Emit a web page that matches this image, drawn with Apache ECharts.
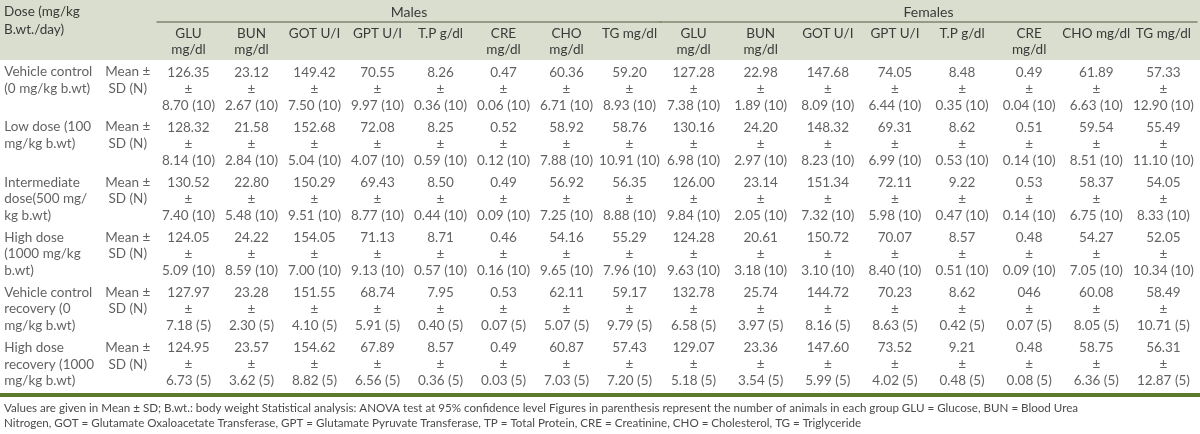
<!DOCTYPE html>
<html>
<head>
<meta charset="utf-8">
<script src="https://cdn.jsdelivr.net/npm/echarts@6/dist/echarts.min.js"></script>
<style>
  html, body { margin: 0; padding: 0; background: #fff; }
  #main { width: 1200px; height: 434px; }
</style>
</head>
<body>
<div id="main"></div>
<script>
// row labels (dose groups)
var doseGroups = [
  'Vehicle control\n(0 mg/kg b.wt)',
  'Low dose (100\nmg/kg b.wt)',
  'Intermediate\ndose(500 mg/\nkg b.wt)',
  'High dose\n(1000 mg/kg\nb.wt)',
  'Vehicle control\nrecovery (0\nmg/kg b.wt)',
  'High dose\nrecovery (1000\nmg/kg b.wt)'
];
var statLabel = 'Mean \u00b1\nSD (N)';
var groupN = [10, 10, 10, 10, 5, 5];

var maleHeaders = ['GLU\nmg/dl', 'BUN\nmg/dl', 'GOT U/I', 'GPT U/I', 'T.P g/dl', 'CRE\nmg/dl', 'CHO\nmg/dl', 'TG mg/dl'];
var femaleHeaders = ['GLU\nmg/dl', 'BUN\nmg/dl', 'GOT U/I', 'GPT U/I', 'T.P g/dl', 'CRE\nmg/dl', 'CHO mg/dl', 'TG mg/dl'];

// mean values, one array per dose group (GLU, BUN, GOT, GPT, T.P, CRE, CHO, TG)
var maleMean = [
  ['126.35', '23.12', '149.42', '70.55', '8.26', '0.47', '60.36', '59.20'],
  ['128.32', '21.58', '152.68', '72.08', '8.25', '0.52', '58.92', '58.76'],
  ['130.52', '22.80', '150.29', '69.43', '8.50', '0.49', '56.92', '56.35'],
  ['124.05', '24.22', '154.05', '71.13', '8.71', '0.46', '54.16', '55.29'],
  ['127.97', '23.28', '151.55', '68.74', '7.95', '0.53', '62.11', '59.17'],
  ['124.95', '23.57', '154.62', '67.89', '8.57', '0.49', '60.87', '57.43']
];
var maleSD = [
  ['8.70', '2.67', '7.50', '9.97', '0.36', '0.06', '6.71', '8.93'],
  ['8.14', '2.84', '5.04', '4.07', '0.59', '0.12', '7.88', '10.91'],
  ['7.40', '5.48', '9.51', '8.77', '0.44', '0.09', '7.25', '8.88'],
  ['5.09', '8.59', '7.00', '9.13', '0.57', '0.16', '9.65', '7.96'],
  ['7.18', '2.30', '4.10', '5.91', '0.40', '0.07', '5.07', '9.79'],
  ['6.73', '3.62', '8.82', '6.56', '0.36', '0.03', '7.03', '7.20']
];
var femaleMean = [
  ['127.28', '22.98', '147.68', '74.05', '8.48', '0.49', '61.89', '57.33'],
  ['130.16', '24.20', '148.32', '69.31', '8.62', '0.51', '59.54', '55.49'],
  ['126.00', '23.14', '151.34', '72.11', '9.22', '0.53', '58.37', '54.05'],
  ['124.28', '20.61', '150.72', '70.07', '8.57', '0.48', '54.27', '52.05'],
  ['132.78', '25.74', '144.72', '70.23', '8.62', '046', '60.08', '58.49'],
  ['129.07', '23.36', '147.60', '73.52', '9.21', '0.48', '58.75', '56.31']
];
var femaleSD = [
  ['7.38', '1.89', '8.09', '6.44', '0.35', '0.04', '6.63', '12.90'],
  ['6.98', '2.97', '8.23', '6.99', '0.53', '0.14', '8.51', '11.10'],
  ['9.84', '2.05', '7.32', '5.98', '0.47', '0.14', '6.75', '8.33'],
  ['9.63', '3.18', '3.10', '8.40', '0.51', '0.09', '7.05', '10.34'],
  ['6.58', '3.97', '8.16', '8.63', '0.42', '0.07', '8.05', '10.71'],
  ['5.18', '3.54', '5.99', '4.02', '0.48', '0.08', '6.36', '12.87']
];

var footnote1 = 'Values are given in Mean \u00b1 SD; B.wt.: body weight Statistical analysis: ANOVA test at 95% confidence level Figures in parenthesis represent the number of animals in each group GLU = Glucose, BUN = Blood Urea';
var footnote2 = 'Nitrogen, GOT = Glutamate Oxaloacetate Transferase, GPT = Glutamate Pyruvate Transferase, TP = Total Protein, CRE = Creatinine, CHO = Cholesterol, TG = Triglyceride';

var FONT = 'Lato, "Open Sans", sans-serif';
var TEXT = '#3a3a3a';

// build cell data: [col, row, text]
function cells(mean, sd) {
  var out = [];
  for (var r = 0; r < mean.length; r++) {
    for (var c = 0; c < mean[r].length; c++) {
      out.push([c, r, mean[r][c] + '\n\u00b1\n' + sd[r][c] + ' (' + groupN[r] + ')']);
    }
  }
  return out;
}
var doseRows = doseGroups.map(function (d, i) { return [0, i, d]; });
var statRows = doseGroups.map(function (d, i) { return [1, i, statLabel]; });

function textLabel(align, dx) {
  return {
    show: true,
    position: 'inside',
    formatter: function (p) { return p.value[2]; },
    color: TEXT,
    fontFamily: FONT,
    fontSize: 13.5,
    lineHeight: 16.5,
    align: align,
    verticalAlign: 'top',
    offset: [dx, -24]
  };
}
function textSeries(gridIdx, data, label) {
  return {
    type: 'scatter', xAxisIndex: gridIdx, yAxisIndex: gridIdx, symbolSize: 1, silent: true,
    itemStyle: { color: 'rgba(0,0,0,0)' },
    data: data, label: label
  };
}

function rowAxis(idx) {
  return {
    type: 'category', gridIndex: idx, inverse: true,
    data: doseGroups, show: false
  };
}
function headAxis(idx, headers, name) {
  return {
    type: 'category', gridIndex: idx, position: 'top', data: headers,
    name: name, nameLocation: 'middle', nameGap: 42,
    nameTextStyle: { color: TEXT, fontFamily: FONT, fontSize: 14 },
    axisLine: { show: false }, axisTick: { show: false },
    axisLabel: {
      interval: 0, margin: 35, verticalAlign: 'top', align: 'center',
      color: TEXT, fontFamily: FONT, fontSize: 13.5, lineHeight: 16
    }
  };
}
function ruleAxis(idx, headers) {
  return {
    type: 'category', gridIndex: idx, position: 'top', offset: 39, data: headers,
    axisLine: { show: true, lineStyle: { color: '#7d8670', width: 1.5 } },
    axisTick: { show: false }, axisLabel: { show: false }
  };
}

var chart = echarts.init(document.getElementById('main'), null, { renderer: 'canvas' });
chart.setOption({
  animation: false,
  textStyle: { fontFamily: FONT },
  graphic: [
    { type: 'rect', z: -10, shape: { x: 0, y: 0, width: 1200, height: 60 }, style: { fill: '#d9decf' } },
    { type: 'text', left: 4, top: 3, style: { text: 'Dose (mg/kg\nB.wt./day)', fill: TEXT, font: '13.5px ' + FONT, lineHeight: 18 } },
    { type: 'rect', shape: { x: 0, y: 393, width: 1200, height: 4 }, style: { fill: '#5b7a2c' } },
    { type: 'text', left: 4, top: 401, style: { text: footnote1 + '\n' + footnote2, fill: '#4a4a4a', font: '11.6px ' + FONT, lineHeight: 15 } }
  ],
  grid: [
    { left: 0, width: 157, top: 60, height: 331 },
    { left: 157, width: 504, top: 60, height: 331 },
    { left: 660, width: 537, top: 60, height: 331 }
  ],
  xAxis: [
    { type: 'category', gridIndex: 0, data: ['dose', 'stat'], show: false },
    headAxis(1, maleHeaders, 'Males'),
    headAxis(2, femaleHeaders, 'Females'),
    ruleAxis(1, maleHeaders),
    ruleAxis(2, femaleHeaders)
  ],
  yAxis: [rowAxis(0), rowAxis(1), rowAxis(2)],
  series: [
    textSeries(0, doseRows, textLabel('left', -35)),
    textSeries(0, statRows, textLabel('center', 10)),
    textSeries(1, cells(maleMean, maleSD), textLabel('center', 0)),
    textSeries(2, cells(femaleMean, femaleSD), textLabel('center', 0))
  ]
});
window.onresize = function () { chart.resize(); };
</script>
</body>
</html>
